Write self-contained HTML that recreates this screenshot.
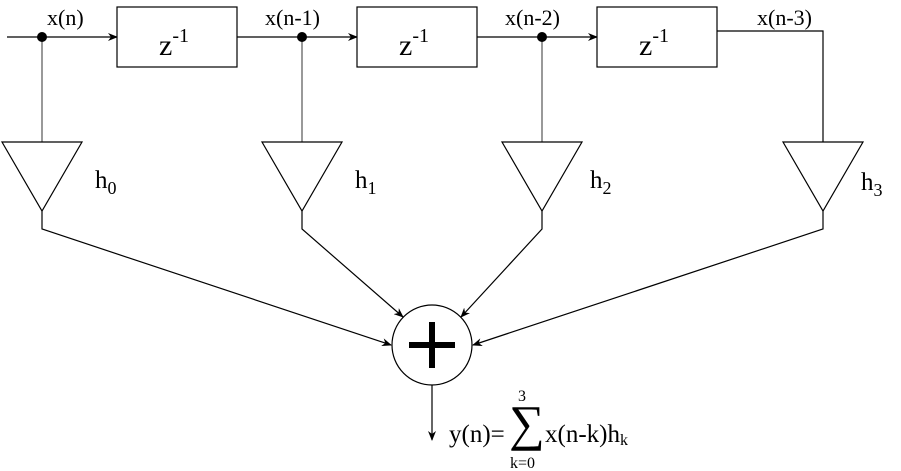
<!DOCTYPE html>
<html><head><meta charset="utf-8"><style>
html,body{margin:0;padding:0;background:#fff;}
svg{display:block;font-family:"Liberation Serif",serif;}
</style></head><body>
<svg width="901" height="471" viewBox="0 0 901 471" xmlns="http://www.w3.org/2000/svg">
<defs><marker id="a" markerWidth="10" markerHeight="8" refX="9" refY="4" orient="auto" markerUnits="userSpaceOnUse"><path d="M0,0 L10,4 L0,8 L3,4 Z" fill="#000"/></marker></defs>
<g stroke="#000" stroke-width="1.2" fill="none">
<line x1="7" y1="37" x2="117" y2="37" marker-end="url(#a)"/>
<line x1="237" y1="37" x2="357" y2="37" marker-end="url(#a)"/>
<line x1="477" y1="37" x2="597" y2="37" marker-end="url(#a)"/>
<polyline points="717,31 823,31 823,142"/>
<rect x="117" y="7" width="120" height="60" fill="#fff"/>
<rect x="357" y="7" width="120" height="60" fill="#fff"/>
<rect x="597" y="7" width="120" height="60" fill="#fff"/>
<g stroke="#555"><line x1="42" y1="37" x2="42" y2="142"/><line x1="302" y1="37" x2="302" y2="142"/><line x1="542" y1="37" x2="542" y2="142"/></g>
<polygon points="2,142 82,142 42,211"/>
<polygon points="262,142 342,142 302,211"/>
<polygon points="502,142 582,142 542,211"/>
<polygon points="783,142 863,142 823,211"/>
<polyline points="42,211 42,229 391,345" marker-end="url(#a)"/>
<polyline points="302,211 302,229 403,317" marker-end="url(#a)"/>
<polyline points="542,211 542,229 461,317" marker-end="url(#a)"/>
<polyline points="823,211 823,229 473,345" marker-end="url(#a)"/>
<circle cx="432" cy="345" r="40"/>
<line x1="432" y1="385" x2="432" y2="440" marker-end="url(#a)"/>
</g>
<g fill="#000"><circle cx="42" cy="37" r="5"/><circle cx="302" cy="37" r="5"/><circle cx="542" cy="37" r="5"/></g>
<rect x="409" y="342" width="46" height="6" fill="#000"/>
<rect x="429" y="322" width="6" height="46" fill="#000"/>
<g font-size="22" fill="#000">
<text x="47" y="25">x(n)</text>
<text x="265" y="25">x(n-1)</text>
<text x="505" y="25">x(n-2)</text>
<text x="757" y="25">x(n-3)</text>
</g>
<g font-size="30" fill="#000">
<text x="159" y="55">z<tspan font-size="20" dy="-13">-1</tspan></text>
<text x="399" y="55">z<tspan font-size="20" dy="-13">-1</tspan></text>
<text x="639" y="55">z<tspan font-size="20" dy="-13">-1</tspan></text>
</g>
<g font-size="25" fill="#000">
<text x="95" y="188">h<tspan font-size="18" dy="6">0</tspan></text>
<text x="355" y="188">h<tspan font-size="18" dy="6">1</tspan></text>
<text x="590" y="188">h<tspan font-size="18" dy="6">2</tspan></text>
<text x="861" y="190">h<tspan font-size="18" dy="6">3</tspan></text>
<text x="449" y="442">y(n)=</text>
<text x="545" y="442">x(n-k)h<tspan font-size="16" dy="3">k</tspan></text>
</g>
<text x="509" y="440" font-size="50" fill="#000">∑</text>
<text x="518" y="401" font-size="16" fill="#000">3</text>
<text x="510" y="468" font-size="16" fill="#000">k=0</text>
</svg>
</body></html>
